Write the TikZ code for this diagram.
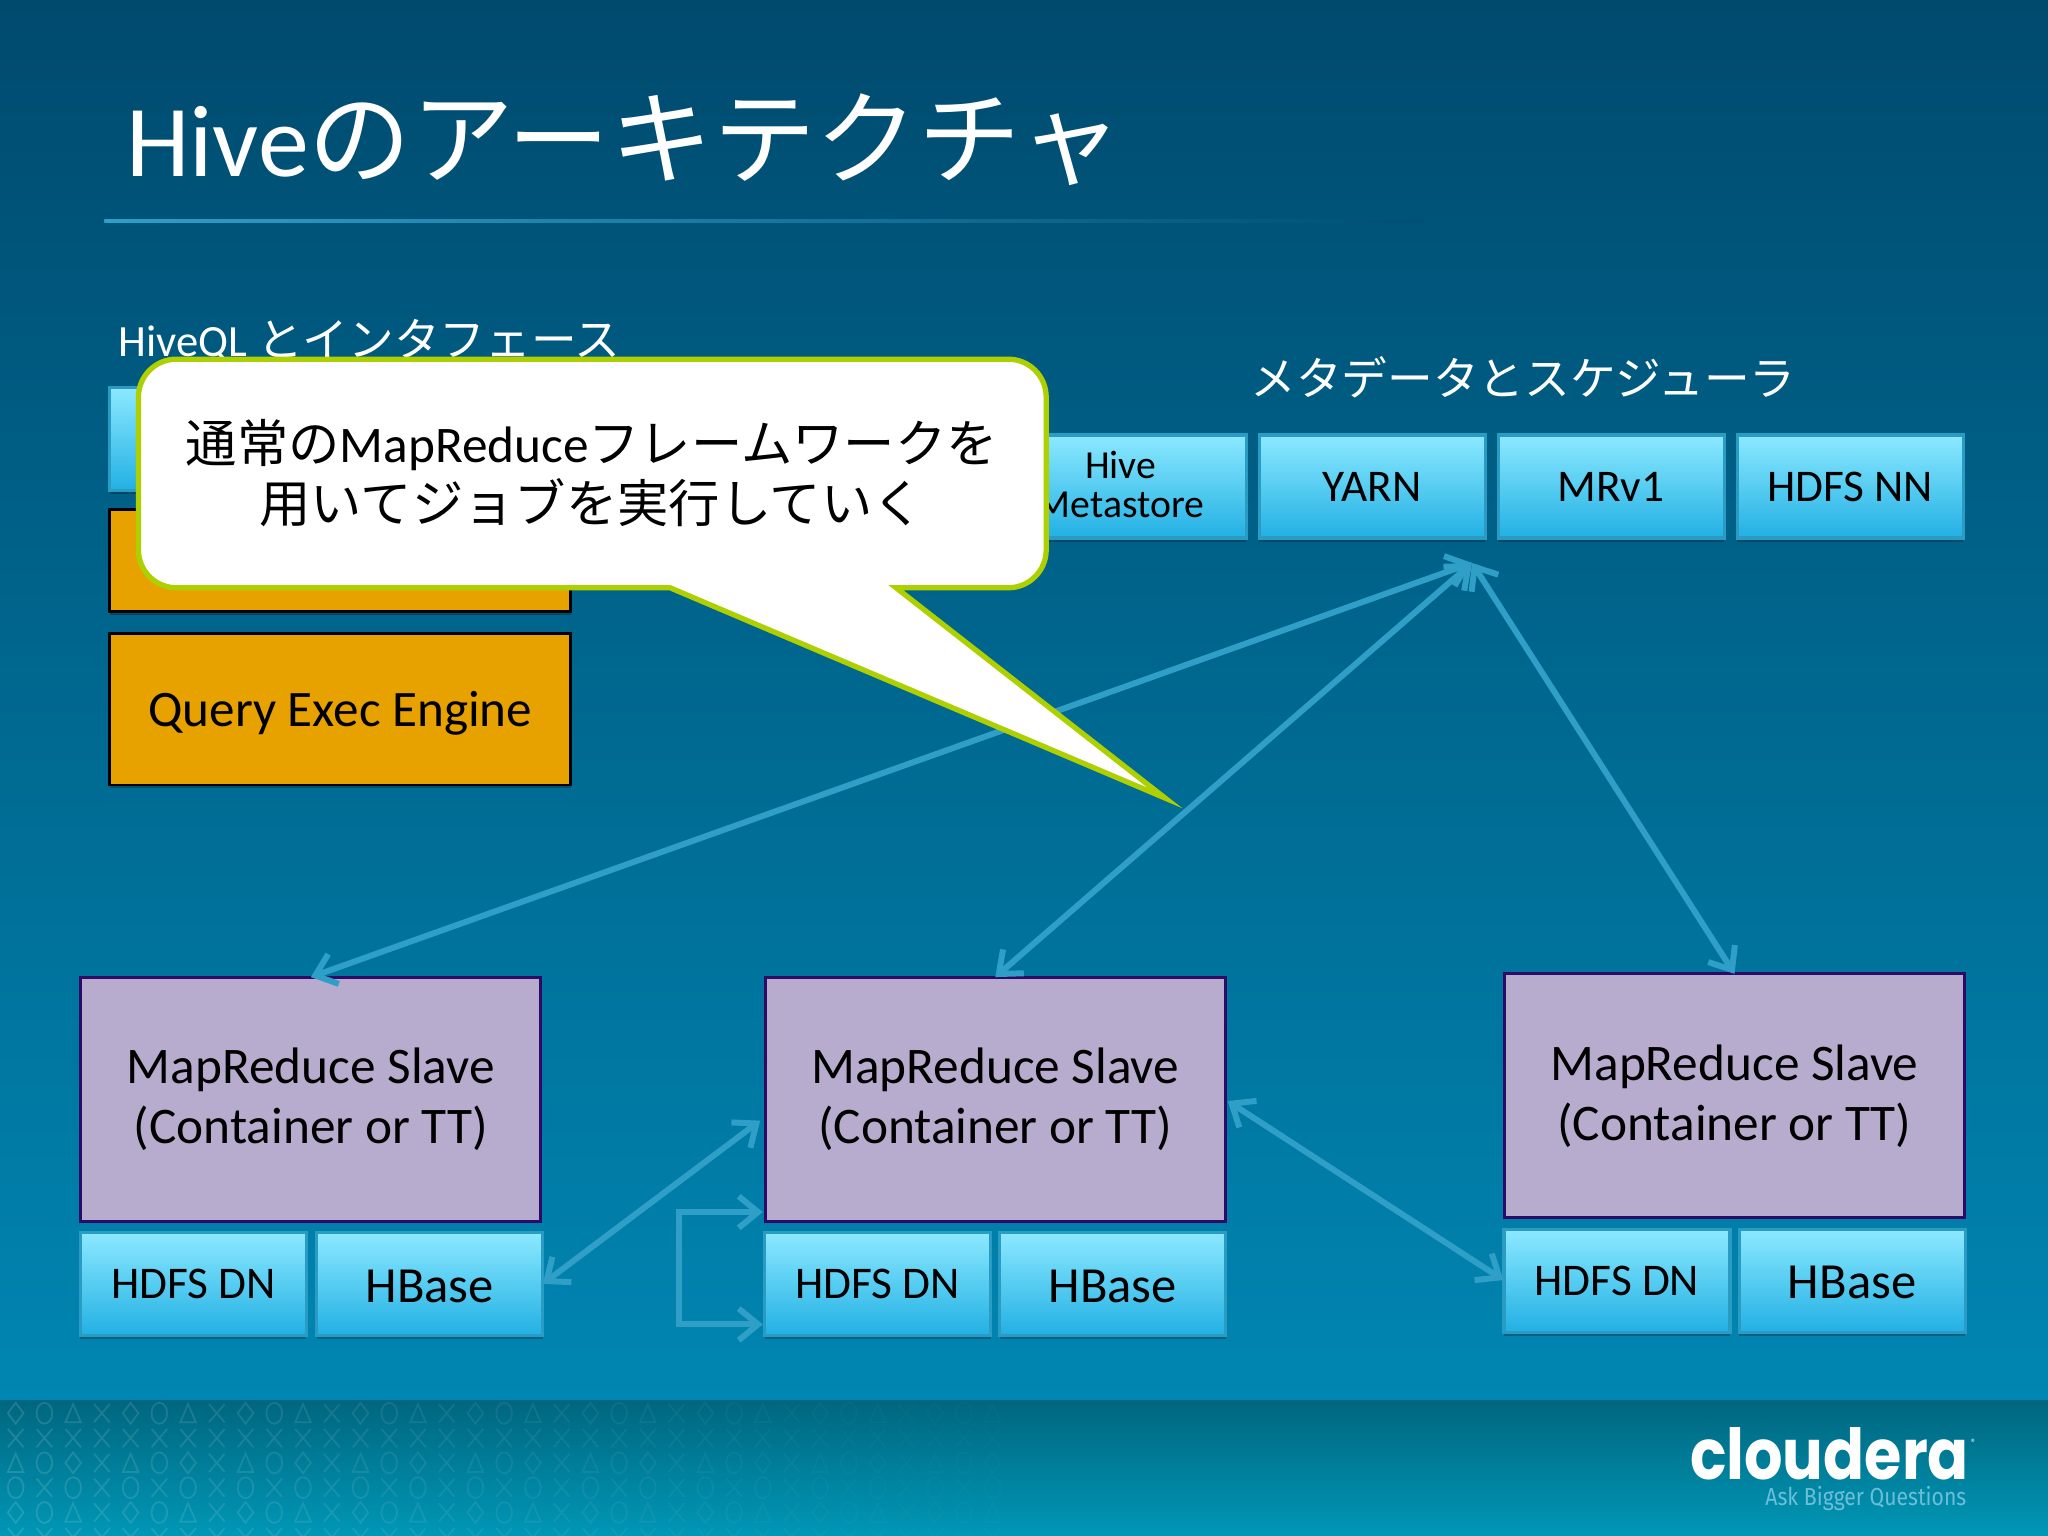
\documentclass[tikz,border=0pt]{standalone}
\usepackage{fontspec}
\setmainfont{Carlito}
\newfontfamily\jpfont{Noto Sans CJK JP}
\newfontfamily\logofont{Poppins}
\newfontfamily\tagfont{Fira Sans}
\usetikzlibrary{arrows.meta,shadows}
\definecolor{bgtop}{HTML}{004A6E}
\definecolor{bgbot}{HTML}{0086B2}
\definecolor{foota}{HTML}{00667F}
\definecolor{footb}{HTML}{0097B6}
\definecolor{linkblue}{HTML}{2F9FC8}
\definecolor{bluetop}{HTML}{8CE9FF}
\definecolor{bluebot}{HTML}{22B0E4}
\definecolor{blueline}{HTML}{2A9CC4}
\definecolor{orangefill}{HTML}{E8A200}
\definecolor{slavefill}{HTML}{B8ACCE}
\definecolor{slaveline}{HTML}{2C0A66}
\definecolor{calloutline}{HTML}{AFD000}
\definecolor{tagblue}{HTML}{6CBEDA}
\newcommand{\slavelabel}{\raisebox{-1.1pt}{MapReduce Slave}\\[0pt]\raisebox{-1.1pt}{(Container or TT)}}

\begin{document}
\begin{tikzpicture}[x=0.0130612cm,y=-0.0130612cm]
\tikzstyle{softshadow}=[drop shadow={shadow xshift=0pt,shadow yshift=-1pt,opacity=0.25,fill=black}]
\tikzstyle{bluebox}=[rectangle,inner sep=0pt,outer sep=0pt,minimum width=2.26cm,minimum height=1.03cm,
  align=center,top color=bluetop,bottom color=bluebot,draw=blueline,line width=0.9pt,softshadow,font=\fontsize{12.9}{15}\selectfont]
\tikzstyle{hbasebox}=[bluebox,font=\fontsize{14.4}{17}\selectfont,execute at begin node={\rule{0pt}{10.4pt}}]
\tikzstyle{orangebox}=[rectangle,inner sep=0pt,outer sep=0pt,minimum width=4.61cm,fill=orangefill,draw=black,
  line width=0.8pt,softshadow,font=\fontsize{14.55}{18}\selectfont]
\tikzstyle{slavebox}=[rectangle,inner sep=0pt,outer sep=0pt,minimum width=4.6cm,minimum height=2.44cm,align=center,
  fill=slavefill,draw=slaveline,line width=0.8pt,font=\fontsize{14.6}{17.1}\selectfont]
\tikzstyle{link}=[draw=linkblue,line width=1.7pt,{Straight Barb[length=5.5pt,width=9pt]}-{Straight Barb[length=5.5pt,width=9pt]}]
\tikzstyle{sectionlabel}=[text=white,inner sep=0pt,font=\fontsize{12.7}{15}\selectfont]

% background and footer
\shade[top color=bgtop,bottom color=bgbot] (0,0) rectangle (1568,1072);
\shade[top color=foota,bottom color=footb] (0,1072) rectangle (1568,1176);
\begin{scope}
\clip (0,1072) rectangle (1568,1176);
\foreach \col in {0,...,34}{
  \foreach \row in {0,...,5}{
    \pgfmathsetmacro{\fade}{max(0.02,0.13*(1-\col/36))}
    \pgfmathtruncatemacro{\pick}{mod(\col*3+\row*5+\col*\row,4)}
    \begin{scope}[shift={(12+22*\col,1082+19*\row)},draw=white,draw opacity=\fade,line width=0.5pt]
      \ifcase\pick
        \draw (0,-8) -- (6,0) -- (0,8) -- (-6,0) -- cycle;
      \or
        \draw (-6,-7) -- (6,7) (6,-7) -- (-6,7);
      \or
        \draw (0,-7) -- (6,7) -- (-6,7) -- cycle;
      \or
        \draw (0,0) ellipse (6 and 8);
      \fi
    \end{scope}
  }
}
\end{scope}

% title
\node[anchor=base west,inner sep=0pt,text=white] (title) at (96,135)
  {\fontsize{29}{36}\selectfont Hive{\jpfont\fontsize{29.2}{36}\selectfont のアーキテクチャ}};
\shade[left color=linkblue,right color=bgtop!92!bgbot] (80,168) rectangle (1090,170);

\node[sectionlabel,anchor=base west] (hiveql) at (90,273) {HiveQL {\jpfont\fontsize{13}{15}\selectfont とインタフェース}};
\node[sectionlabel,anchor=base] (metalabel) at (1166,303) {\jpfont\fontsize{13}{15}\selectfont メタデータとスケジューラ};

% left column
\node[bluebox,minimum width=4.61cm] (client) at (260.5,336) {};
\node[orangebox,minimum height=1.02cm] (compiler) at (260.5,429) {};
\node[orangebox,minimum height=1.515cm] (engine) at (260.5,543) {\rule{0pt}{12.4pt}Query Exec Engine};

% master row
\node[bluebox,minimum width=2.51cm,font=\fontsize{11.3}{11.1}\selectfont] (metastore) at (858,372.5) {Hive\\Metastore\rule[-1.5pt]{0pt}{1pt}};
\node[bluebox] (yarn) at (1050.5,372.5) {YARN};
\node[bluebox] (mrv) at (1233.5,372.5) {MRv1};
\node[bluebox] (hdfsnn) at (1416.5,372.5) {HDFS NN};

% slaves
\node[slavebox] (slaveA) at (238,841.5) {\slavelabel};
\node[bluebox] (hdfsA) at (148,983) {HDFS DN};
\node[hbasebox] (hbaseA) at (329,983) {HBase};
\node[slavebox] (slaveB) at (762,841.5) {\slavelabel};
\node[bluebox] (hdfsB) at (672,983) {HDFS DN};
\node[hbasebox] (hbaseB) at (852,983) {HBase};
\node[slavebox] (slaveC) at (1328,839) {\slavelabel};
\node[bluebox] (hdfsC) at (1238,980.5) {HDFS DN};
\node[hbasebox] (hbaseC) at (1418,980.5) {HBase};

% connectors
\coordinate (hub) at (1127,431);
\coordinate (slaveBleft) at (582,858);
\coordinate (slaveBright) at (940,843);
\coordinate (hdfsCleft) at (1151,980);
\coordinate (loopTop) at (584,928);
\coordinate (loopBot) at (584,1014);
\draw[link] (slaveA.north) -- (hub);
\draw[link] (slaveB.north) -- (hub);
\draw[link] (slaveC.north) -- (hub);
\draw[link] (hbaseA.east) -- (slaveBleft);
\draw[link] (slaveBright) -- (hdfsCleft);
\draw[link] (loopTop) -- (520,928) -- (520,1014) -- (loopBot);

% callout
\draw[draw=calloutline,fill=white,line width=1.5pt,line join=miter]
  (135,275) -- (772,275) arc[start angle=-90,end angle=0,radius=29]
  -- (801,421) arc[start angle=0,end angle=90,radius=29]
  -- (686,450) -- (892,611) -- (513,450) -- (135,450)
  arc[start angle=90,end angle=180,radius=29]
  -- (106,304) arc[start angle=180,end angle=270,radius=29] -- cycle;
\node[align=center,inner sep=0pt,font=\fontsize{14.6}{17}\selectfont] (callout) at (453,362)
  {{\jpfont 通常の}MapReduce{\jpfont フレームワークを}\\[0pt]{\jpfont 用いてジョブを実行していく}};

% logo
\node[anchor=base east,inner sep=0pt,text=white] (logo) at (1508,1133)
  {\scalebox{0.86}[1]{\logofont\bfseries\fontsize{20}{22}\selectfont cloudera}};
\node[anchor=center,inner sep=0pt,text=white,font=\fontsize{3}{3}\selectfont] (regmark) at (1511,1105) {®};
\node[anchor=base east,inner sep=0pt,text=tagblue] (tagline) at (1506,1153)
  {\scalebox{0.86}[1]{\tagfont\fontsize{7}{7}\selectfont Ask Bigger Questions}};
\end{tikzpicture}
\end{document}
